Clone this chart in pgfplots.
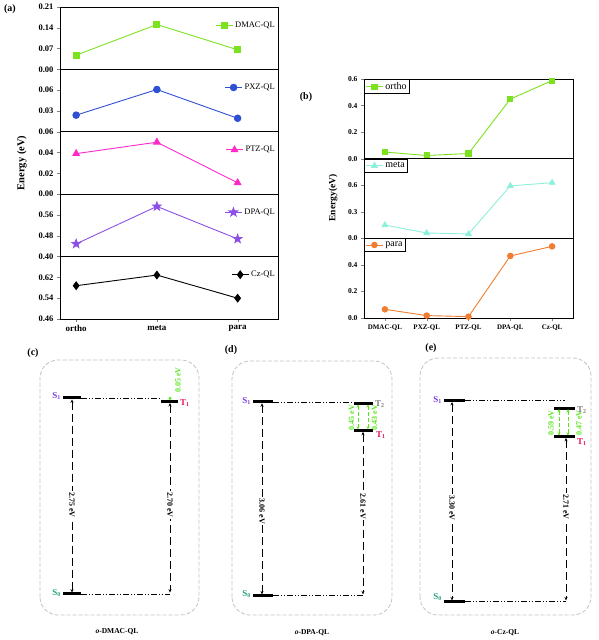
\documentclass[border=0pt]{standalone}
\usepackage{fontspec}
\setmainfont{Liberation Serif}
\usepackage{pgfplots}
\pgfplotsset{compat=1.18}
\usetikzlibrary{arrows.meta,plotmarks}
\definecolor{lgreen}{RGB}{124,226,32}
\definecolor{bblue}{RGB}{48,80,212}
\definecolor{mmag}{RGB}{255,40,200}
\definecolor{ppur}{RGB}{140,80,230}
\definecolor{ccyan}{RGB}{140,240,220}
\definecolor{oorange}{RGB}{240,125,50}
\definecolor{s1c}{RGB}{120,60,220}
\definecolor{t1c}{RGB}{230,20,100}
\definecolor{s0c}{RGB}{40,160,130}
\definecolor{t2c}{RGB}{125,125,125}
\definecolor{boxc}{RGB}{190,195,200}
\definecolor{garrc}{RGB}{90,230,30}
\pgfdeclareplotmark{fstar}{%
  \pgfpathmoveto{\pgfpointpolar{90}{1.35\pgfplotmarksize}}%
  \pgfpathlineto{\pgfpointpolar{126}{0.55\pgfplotmarksize}}%
  \pgfpathlineto{\pgfpointpolar{162}{1.35\pgfplotmarksize}}%
  \pgfpathlineto{\pgfpointpolar{198}{0.55\pgfplotmarksize}}%
  \pgfpathlineto{\pgfpointpolar{234}{1.35\pgfplotmarksize}}%
  \pgfpathlineto{\pgfpointpolar{270}{0.55\pgfplotmarksize}}%
  \pgfpathlineto{\pgfpointpolar{306}{1.35\pgfplotmarksize}}%
  \pgfpathlineto{\pgfpointpolar{342}{0.55\pgfplotmarksize}}%
  \pgfpathlineto{\pgfpointpolar{18}{1.35\pgfplotmarksize}}%
  \pgfpathlineto{\pgfpointpolar{54}{0.55\pgfplotmarksize}}%
  \pgfpathclose\pgfusepathqfillstroke}
\pgfplotsset{
  apanel/.style={scale only axis, width=218pt, height=62.4pt,
    xmin=-0.2, xmax=2.5, xtick=\empty, ytick pos=left, tick align=outside,
    major tick length=3pt, scaled y ticks=false,
    yticklabel style={font=\bfseries\fontsize{8.5}{9}\selectfont,
      /pgf/number format/fixed,/pgf/number format/fixed zerofill,/pgf/number format/precision=2},
    /pgf/number format/assume math mode=true,
    legend style={draw=none, fill=none, at={(1,0.71)}, anchor=east,
      font=\fontsize{8.5}{9}\selectfont, inner sep=1pt},
    axis line style={line width=0.7pt}, anchor=north west},
  bpanel/.style={scale only axis, width=209pt, height=79.7pt,
    xmin=-0.5, xmax=4.5, xtick=\empty, ytick pos=left, tick align=outside,
    major tick length=3pt, scaled y ticks=false,
    yticklabel style={font=\bfseries\fontsize{7.5}{8}\selectfont,
      /pgf/number format/fixed,/pgf/number format/fixed zerofill,/pgf/number format/precision=1},
    /pgf/number format/assume math mode=true,
    legend style={at={(0,1)}, anchor=north west, draw=black, line width=0.9pt,
      font=\fontsize{10}{10}\selectfont, inner sep=1pt},
    legend cell align=left,
    axis line style={line width=0.7pt}, anchor=north west},
  diag/.style={scale only axis, axis lines=none, clip=false, enlargelimits=false,
    xtick=\empty, ytick=\empty, anchor=south west},
  lvl/.style={black, line width=3pt, line cap=butt},
  dd/.style={black, line width=0.8pt, dash pattern=on 6pt off 2pt on 1pt off 2pt on 1pt off 2pt},
  darr/.style={black, line width=0.9pt, dash pattern=on 8pt off 4pt,
    {Stealth[length=3.5pt,width=3pt]}-{Stealth[length=3.5pt,width=3pt]}},
  garr/.style={garrc, line width=0.8pt, dash pattern=on 4pt off 2pt,
    {Stealth[length=3pt,width=3pt]}-{Stealth[length=3pt,width=3pt]}},
}
\tikzset{
  elab/.style={fill=white, inner sep=1pt, font=\bfseries\fontsize{8}{8}\selectfont},
  glab/.style={text=garrc, inner sep=0.5pt, font=\bfseries\fontsize{8}{8}\selectfont},
  slab/.style={inner sep=1pt, font=\bfseries\fontsize{9}{9}\selectfont},
}
\begin{document}
\begin{tikzpicture}
\useasboundingbox (0,0) rectangle (598pt,640pt);
% ---------------- panel (a) ----------------
\begin{axis}[apanel, at={(60pt,633pt)}, ymin=0, ymax=0.21, ytick={0,0.07,0.14,0.21}]
\addplot[lgreen, line width=0.9pt, mark=square*, mark size=3pt] coordinates {(0,0.048)(1,0.151)(2,0.066)};
\addlegendentry{DMAC-QL}
\end{axis}
\begin{axis}[apanel, at={(60pt,570.6pt)}, ymin=0, ymax=0.09, ytick={0.03,0.06}]
\addplot[bblue, line width=0.9pt, mark=*, mark size=3.3pt] coordinates {(0,0.024)(1,0.061)(2,0.0195)};
\addlegendentry{PXZ-QL}
\end{axis}
\begin{axis}[apanel, at={(60pt,508.2pt)}, ymin=0, ymax=0.06, ytick={0,0.02,0.04,0.06}]
\addplot[mmag, line width=0.9pt, mark=triangle*, mark size=3.8pt] coordinates {(0,0.039)(1,0.050)(2,0.011)};
\addlegendentry{PTZ-QL}
\end{axis}
\begin{axis}[apanel, at={(60pt,445.8pt)}, ymin=0.40, ymax=0.64, ytick={0.40,0.48,0.56}]
\addplot[ppur, line width=0.9pt, mark=fstar, mark size=3.3pt] coordinates {(0,0.449)(1,0.593)(2,0.468)};
\addlegendentry{DPA-QL}
\end{axis}
\begin{axis}[apanel, at={(60pt,383.4pt)}, ymin=0.46, ymax=0.70, ytick={0.46,0.54,0.62},
  xtick={0,1,2}, xticklabels={ortho,meta,para}, xtick pos=bottom,
  xticklabel style={font=\bfseries\fontsize{9}{10}\selectfont}]
\addplot[black, line width=0.9pt, mark=diamond*, mark size=3.8pt] coordinates {(0,0.588)(1,0.629)(2,0.540)};
\addlegendentry{Cz-QL}
\end{axis}
\node[rotate=90, font=\bfseries\fontsize{10.5}{11}\selectfont] at (22pt,477pt) {Energy (eV)};
\node[font=\bfseries\fontsize{10}{10}\selectfont] at (10pt,631pt) {(a)};
% ---------------- panel (b) ----------------
\begin{axis}[bpanel, at={(364pt,561pt)}, ymin=0, ymax=0.6, ytick={0,0.2,0.4,0.6}]
\addplot[lgreen, line width=0.9pt, mark=square*, mark size=2.6pt] coordinates {(0,0.05)(1,0.024)(2,0.039)(3,0.449)(4,0.588)};
\addlegendentry{ortho}
\end{axis}
\begin{axis}[bpanel, at={(364pt,481.3pt)}, ymin=0, ymax=0.9, ytick={0,0.3,0.6}]
\addplot[ccyan, line width=0.9pt, mark=triangle*, mark size=3.2pt] coordinates {(0,0.15)(1,0.061)(2,0.050)(3,0.593)(4,0.629)};
\addlegendentry{meta}
\end{axis}
\begin{axis}[bpanel, at={(364pt,401.6pt)}, ymin=0, ymax=0.6, ytick={0,0.2,0.4},
  xtick={0,1,2,3,4}, xticklabels={DMAC-QL,PXZ-QL,PTZ-QL,DPA-QL,Cz-QL}, xtick pos=bottom,
  xticklabel style={font=\bfseries\fontsize{7}{8}\selectfont}]
\addplot[oorange, line width=0.9pt, mark=*, mark size=2.8pt] coordinates {(0,0.066)(1,0.019)(2,0.011)(3,0.468)(4,0.540)};
\addlegendentry{para}
\end{axis}
\node[rotate=90, font=\bfseries\fontsize{9.5}{10}\selectfont] at (333pt,442pt) {Energy(eV)};
\node[font=\bfseries\fontsize{10}{10}\selectfont] at (306pt,543pt) {(b)};
% ---------------- panel (c) ----------------
\draw[boxc, line width=0.8pt, dash pattern=on 4pt off 2pt, rounded corners=18pt] (40pt,25pt) rectangle (199pt,280pt);
\node[font=\bfseries\fontsize{10}{10}\selectfont] at (33pt,287pt) {(c)};
\begin{axis}[diag, at={(40pt,46pt)}, width=160pt, height=196pt, xmin=40, xmax=200, ymin=0, ymax=2.75]
\addplot[dd] coordinates {(81,2.75)(162,2.75)};
\addplot[dd] coordinates {(81,0)(170,0)};
\addplot[lvl] coordinates {(63,2.75)(81,2.75)};
\addplot[lvl] coordinates {(161,2.70)(178,2.70)};
\addplot[lvl] coordinates {(63,0)(81,0)};
\addplot[darr] coordinates {(72,2.73)(72,0.02)};
\addplot[darr] coordinates {(170,2.68)(170,0.02)};
\addplot[garrc, line width=1.2pt, {Stealth[length=2pt,width=3pt]}-{Stealth[length=2pt,width=3pt]}] coordinates {(170,2.77)(170,2.72)};
\node[elab, rotate=-90] at (axis cs:72,1.25) {2.75 eV};
\node[elab, rotate=-90] at (axis cs:170,1.25) {2.70 eV};
\node[glab, rotate=90] at (axis cs:178,3.0) {0.05 eV};
\node[slab, text=s1c, anchor=east] at (axis cs:62,2.78) {S\textsubscript{1}};
\node[slab, text=t1c, anchor=west] at (axis cs:179,2.68) {T\textsubscript{1}};
\node[slab, text=s0c, anchor=east] at (axis cs:62,0.02) {S\textsubscript{0}};
\end{axis}
\node[font=\bfseries\fontsize{7.5}{8}\selectfont] at (117pt,8pt) {\textit{o}-DMAC-QL};
% ---------------- panel (d) ----------------
\draw[boxc, line width=0.8pt, dash pattern=on 4pt off 2pt, rounded corners=18pt] (232pt,25pt) rectangle (392pt,279pt);
\node[font=\bfseries\fontsize{10}{10}\selectfont] at (231pt,290pt) {(d)};
\begin{axis}[diag, at={(232pt,44.3pt)}, width=160pt, height=193.7pt, xmin=232, xmax=392, ymin=0, ymax=3.06]
\addplot[dd] coordinates {(273,3.06)(354,3.06)};
\addplot[dd] coordinates {(273,0)(363,0)};
\addplot[lvl] coordinates {(253,3.06)(273,3.06)};
\addplot[lvl] coordinates {(354,3.04)(373,3.04)};
\addplot[lvl] coordinates {(354,2.61)(373,2.61)};
\addplot[lvl] coordinates {(253,0)(273,0)};
\addplot[darr] coordinates {(262,3.04)(262,0.02)};
\addplot[darr] coordinates {(363,2.59)(363,0.02)};
\addplot[garr] coordinates {(358,3.02)(358,2.63)};
\addplot[garr] coordinates {(368,3.02)(368,2.63)};
\node[elab, rotate=-90] at (axis cs:262,1.33) {3.06 eV};
\node[elab, rotate=-90] at (axis cs:363,1.41) {2.61 eV};
\node[glab, rotate=90] at (axis cs:351.5,2.81) {0.45 eV};
\node[glab, rotate=90] at (axis cs:374.5,2.81) {0.43 eV};
\node[slab, text=s1c, anchor=east] at (axis cs:252,3.08) {S\textsubscript{1}};
\node[slab, text=t2c, anchor=west] at (axis cs:374,3.02) {T\textsubscript{2}};
\node[slab, text=t1c, anchor=west] at (axis cs:375,2.53) {T\textsubscript{1}};
\node[slab, text=s0c, anchor=east] at (axis cs:252,0.02) {S\textsubscript{0}};
\end{axis}
\node[font=\bfseries\fontsize{7.5}{8}\selectfont] at (312pt,7pt) {\textit{o}-DPA-QL};
% ---------------- panel (e) ----------------
\draw[boxc, line width=0.8pt, dash pattern=on 4pt off 2pt, rounded corners=18pt] (420pt,25pt) rectangle (591pt,282pt);
\node[font=\bfseries\fontsize{10}{10}\selectfont] at (431pt,292pt) {(e)};
\begin{axis}[diag, at={(420pt,38.3pt)}, width=171pt, height=201pt, xmin=420, xmax=591, ymin=0, ymax=3.30]
\addplot[dd] coordinates {(465,3.30)(565,3.30)};
\addplot[dd] coordinates {(465,0)(566,0)};
\addplot[lvl] coordinates {(444,3.30)(465,3.30)};
\addplot[lvl] coordinates {(554,3.18)(575,3.18)};
\addplot[lvl] coordinates {(554,2.71)(575,2.71)};
\addplot[lvl] coordinates {(444,0)(465,0)};
\addplot[darr] coordinates {(452,3.28)(452,0.02)};
\addplot[darr] coordinates {(566,2.69)(566,0.02)};
\addplot[garr] coordinates {(559,3.16)(559,2.73)};
\addplot[garr] coordinates {(568,3.16)(568,2.73)};
\node[elab, rotate=-90] at (axis cs:452,1.54) {3.30 eV};
\node[elab, rotate=-90] at (axis cs:566,1.56) {2.71 eV};
\node[glab, rotate=90] at (axis cs:551,2.93) {0.59 eV};
\node[glab, rotate=90] at (axis cs:579,2.93) {0.47 eV};
\node[slab, text=s1c, anchor=east] at (axis cs:443,3.31) {S\textsubscript{1}};
\node[slab, text=t2c, anchor=west] at (axis cs:576,3.15) {T\textsubscript{2}};
\node[slab, text=t1c, anchor=west] at (axis cs:576,2.62) {T\textsubscript{1}};
\node[slab, text=s0c, anchor=east] at (axis cs:443,0.08) {S\textsubscript{0}};
\end{axis}
\node[font=\bfseries\fontsize{7.5}{8}\selectfont] at (505pt,7pt) {\textit{o}-Cz-QL};
\end{tikzpicture}
\end{document}
